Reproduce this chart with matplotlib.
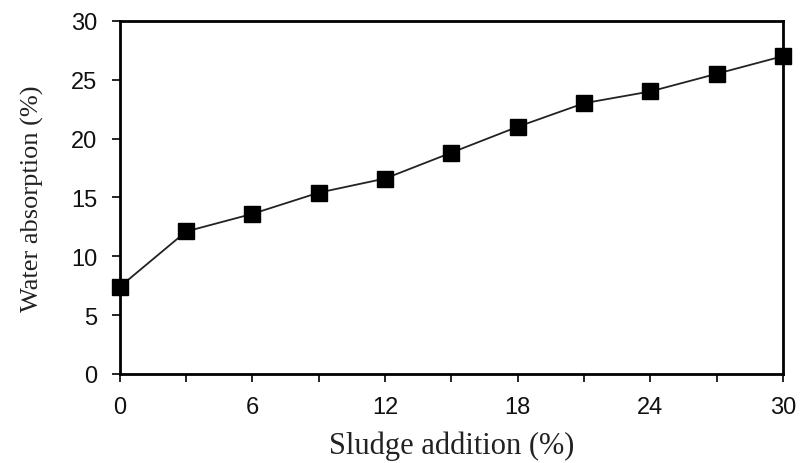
import matplotlib
matplotlib.use("Agg")
import matplotlib.pyplot as plt

# datos
sludge = [0, 3, 6, 9, 12, 15, 18, 21, 24, 27, 30]
absorption = [7.4, 12.1, 13.6, 15.4, 16.6, 18.8, 21.0, 23.0, 24.0, 25.5, 27.0]
x_ticks = list(range(0, 31, 3))
x_labels = [str(v) if v % 6 == 0 else "" for v in x_ticks]
y_ticks = list(range(0, 31, 5))

fig = plt.figure(figsize=(8.04, 4.64), dpi=100)
ax = fig.add_axes([0.149, 0.192, 0.825, 0.761])

ax.plot(sludge, absorption, color="#222222", lw=1.3, marker="s", ms=11.5,
        mfc="black", mec="black", clip_on=False, zorder=3)

ax.set_xlim(0, 30)
ax.set_ylim(0, 30)
ax.set_xticks(x_ticks)
ax.set_xticklabels(x_labels)
ax.set_yticks(y_ticks)
ax.tick_params(direction="out", length=6, width=1.2, labelsize=17,
               labelcolor="#111111")
ax.tick_params(axis="x", pad=10)
ax.tick_params(axis="y", pad=10)
for lbl in ax.get_xticklabels() + ax.get_yticklabels():
    lbl.set_family("Liberation Sans")
for s in ax.spines.values():
    s.set_linewidth(2)

ax.set_xlabel("Sludge addition (%)", family="Liberation Serif", fontsize=22,
              labelpad=9, color="#222222")
ax.set_ylabel("Water absorption (%)", family="Liberation Serif", fontsize=19,
              labelpad=20, color="#222222")

fig.savefig("out.png", dpi=100)
